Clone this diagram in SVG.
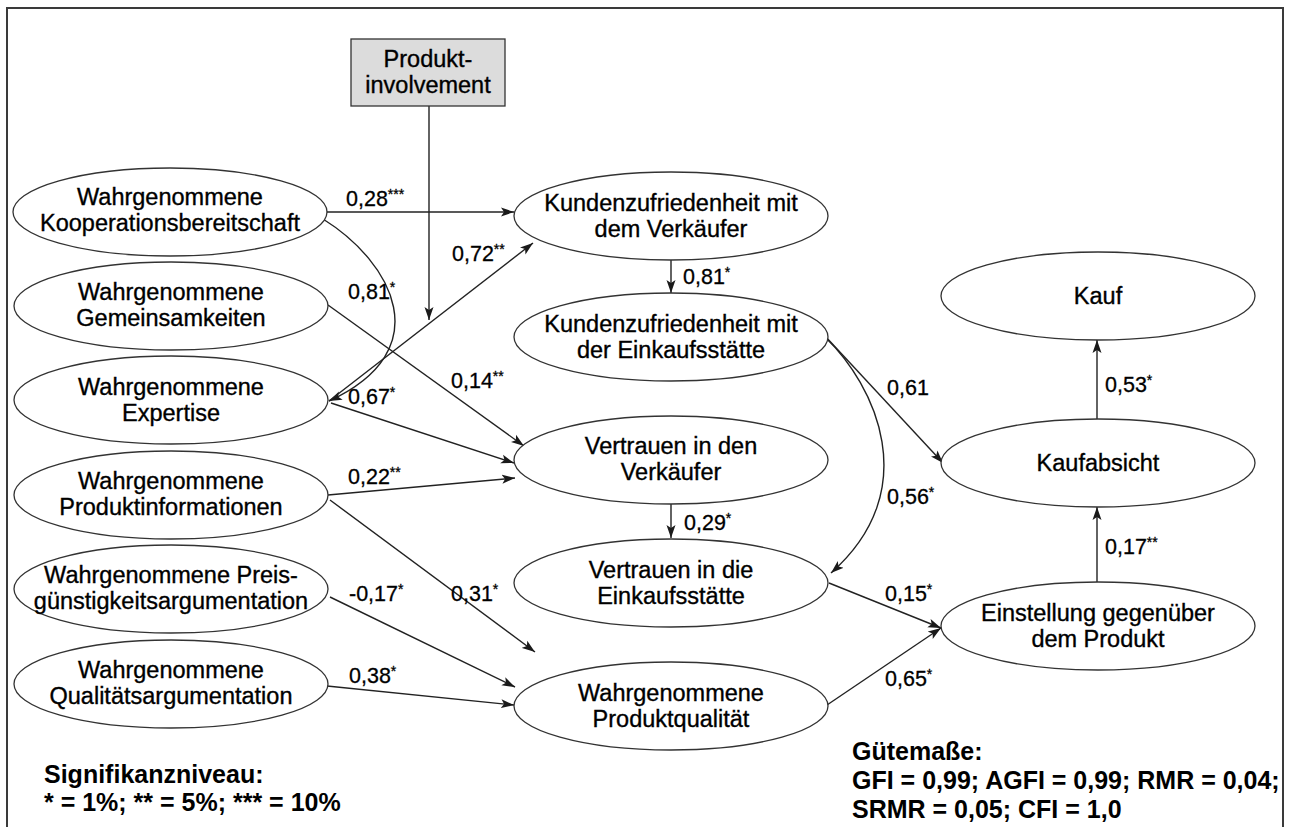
<svg xmlns="http://www.w3.org/2000/svg" width="1291" height="827" viewBox="0 0 1291 827">
<defs>
<marker id="ah" markerWidth="14" markerHeight="10" refX="13" refY="5" orient="auto" markerUnits="userSpaceOnUse">
<path d="M0,0.5 L13,5 L0,9.5 L3,5 z" fill="#1a1a1a"/>
</marker>
<style>
.n ellipse{fill:#fff;stroke:#333;stroke-width:1.3}
.n text{font-family:"Liberation Sans",Arial,sans-serif;font-size:23.5px;fill:#000;stroke:#000;stroke-width:0.35;text-anchor:middle}
.c path{fill:none;stroke:#222;stroke-width:1.4}
.c .a{marker-end:url(#ah)}
.lbl{font-family:"Liberation Sans",Arial,sans-serif;font-size:21.5px;fill:#000;stroke:#000;stroke-width:0.3}
.sup{font-size:14px}
.leg{font-family:"Liberation Sans",Arial,sans-serif;font-size:25px;font-weight:bold;fill:#000}
</style>
</defs>
<rect x="0" y="0" width="1291" height="827" fill="#fff"/>
<rect x="7" y="8" width="1276" height="840" fill="none" stroke="#3a3a3a" stroke-width="2"/>

<g class="c" id="connectors">
<path class="a" d="M326,212 L514,212"/>
<path class="a" d="M323,219 C392,262 440,350 329,401"/>
<path class="a" d="M429,106 L429,320"/>
<path class="a" d="M329,401 L533,243"/>
<path class="a" d="M328,305 L524,446"/>
<path class="a" d="M331,403 L514,463"/>
<path class="a" d="M328,495 L515,478"/>
<path class="a" d="M330,500 L535,652"/>
<path class="a" d="M330,597 L515,687"/>
<path class="a" d="M327,686 L514,705"/>
<path class="a" d="M671,260 L671,293"/>
<path class="a" d="M671,503 L671,538"/>
<path class="a" d="M825,336 L943,463"/>
<path class="a" d="M825,337 C875,385 925,490 831,573"/>
<path class="a" d="M829,583 L941,628"/>
<path class="a" d="M827,705 L941,628"/>
<path class="a" d="M1097,582 L1097,507"/>
<path class="a" d="M1097,420 L1097,340"/>
</g>

<g id="labels">
<text class="lbl" x="346" y="206">0,28<tspan class="sup" dy="-7">***</tspan></text>
<text class="lbl" x="348" y="299">0,81<tspan class="sup" dy="-7">*</tspan></text>
<text class="lbl" x="452" y="261">0,72<tspan class="sup" dy="-7">**</tspan></text>
<text class="lbl" x="451" y="388">0,14<tspan class="sup" dy="-7">**</tspan></text>
<text class="lbl" x="348" y="404">0,67<tspan class="sup" dy="-7">*</tspan></text>
<text class="lbl" x="348" y="484">0,22<tspan class="sup" dy="-7">**</tspan></text>
<text class="lbl" x="349" y="601">-0,17<tspan class="sup" dy="-7">*</tspan></text>
<text class="lbl" x="451" y="601">0,31<tspan class="sup" dy="-7">*</tspan></text>
<text class="lbl" x="349" y="683">0,38<tspan class="sup" dy="-7">*</tspan></text>
<text class="lbl" x="683" y="284">0,81<tspan class="sup" dy="-7">*</tspan></text>
<text class="lbl" x="684" y="530">0,29<tspan class="sup" dy="-7">*</tspan></text>
<text class="lbl" x="887" y="395">0,61</text>
<text class="lbl" x="887" y="504">0,56<tspan class="sup" dy="-7">*</tspan></text>
<text class="lbl" x="885" y="601">0,15<tspan class="sup" dy="-7">*</tspan></text>
<text class="lbl" x="885" y="686">0,65<tspan class="sup" dy="-7">*</tspan></text>
<text class="lbl" x="1105" y="392">0,53<tspan class="sup" dy="-7">*</tspan></text>
<text class="lbl" x="1105" y="554">0,17<tspan class="sup" dy="-7">**</tspan></text>
</g>

<g class="n" id="produktinvolvement">
<rect x="351" y="39" width="154" height="67" fill="#dcdcdc" stroke="#333" stroke-width="1.3"/>
<text x="428" y="67">Produkt-</text>
<text x="428" y="93">involvement</text>
</g>

<g class="n" id="kooperation">
<ellipse cx="170" cy="212" rx="157" ry="44"/>
<text x="170" y="205">Wahrgenommene</text>
<text x="170" y="231">Kooperationsbereitschaft</text>
</g>
<g class="n" id="gemeinsamkeiten">
<ellipse cx="171" cy="306" rx="157" ry="44"/>
<text x="171" y="300">Wahrgenommene</text>
<text x="171" y="326">Gemeinsamkeiten</text>
</g>
<g class="n" id="expertise">
<ellipse cx="171" cy="400" rx="157" ry="44"/>
<text x="171" y="395">Wahrgenommene</text>
<text x="171" y="421">Expertise</text>
</g>
<g class="n" id="produktinformationen">
<ellipse cx="171" cy="495" rx="157" ry="44"/>
<text x="171" y="489">Wahrgenommene</text>
<text x="171" y="515">Produktinformationen</text>
</g>
<g class="n" id="preis">
<ellipse cx="171" cy="589" rx="157" ry="44"/>
<text x="171" y="583">Wahrgenommene Preis-</text>
<text x="171" y="609">günstigkeitsargumentation</text>
</g>
<g class="n" id="qualitaetsarg">
<ellipse cx="171" cy="684" rx="157" ry="44"/>
<text x="171" y="678">Wahrgenommene</text>
<text x="171" y="704">Qualitätsargumentation</text>
</g>

<g class="n" id="kz-verkaeufer">
<ellipse cx="671" cy="216" rx="157" ry="44"/>
<text x="671" y="211">Kundenzufriedenheit mit</text>
<text x="671" y="237">dem Verkäufer</text>
</g>
<g class="n" id="kz-einkaufsstaette">
<ellipse cx="671" cy="337" rx="157" ry="44"/>
<text x="671" y="332">Kundenzufriedenheit mit</text>
<text x="671" y="358">der Einkaufsstätte</text>
</g>
<g class="n" id="vt-verkaeufer">
<ellipse cx="671" cy="460" rx="157" ry="44"/>
<text x="671" y="454">Vertrauen in den</text>
<text x="671" y="480">Verkäufer</text>
</g>
<g class="n" id="vt-einkaufsstaette">
<ellipse cx="671" cy="583" rx="157" ry="44"/>
<text x="671" y="578">Vertrauen in die</text>
<text x="671" y="604">Einkaufsstätte</text>
</g>
<g class="n" id="produktqualitaet">
<ellipse cx="671" cy="706" rx="157" ry="44"/>
<text x="671" y="701">Wahrgenommene</text>
<text x="671" y="727">Produktqualität</text>
</g>

<g class="n" id="kauf">
<ellipse cx="1098" cy="296" rx="157" ry="44"/>
<text x="1098" y="304">Kauf</text>
</g>
<g class="n" id="kaufabsicht">
<ellipse cx="1098" cy="463" rx="157" ry="44"/>
<text x="1098" y="471">Kaufabsicht</text>
</g>
<g class="n" id="einstellung">
<ellipse cx="1098" cy="626" rx="157" ry="44"/>
<text x="1098" y="621">Einstellung gegenüber</text>
<text x="1098" y="647">dem Produkt</text>
</g>

<g id="legende">
<text class="leg" x="44" y="783">Signifikanzniveau:</text>
<text class="leg" x="44" y="811">* = 1%; ** = 5%; *** = 10%</text>
</g>
<g id="guetemasse">
<text class="leg" x="852" y="760">Gütemaße:</text>
<text class="leg" x="852" y="789">GFI = 0,99; AGFI = 0,99; RMR = 0,04;</text>
<text class="leg" x="852" y="818">SRMR = 0,05; CFI = 1,0</text>
</g>
</svg>
